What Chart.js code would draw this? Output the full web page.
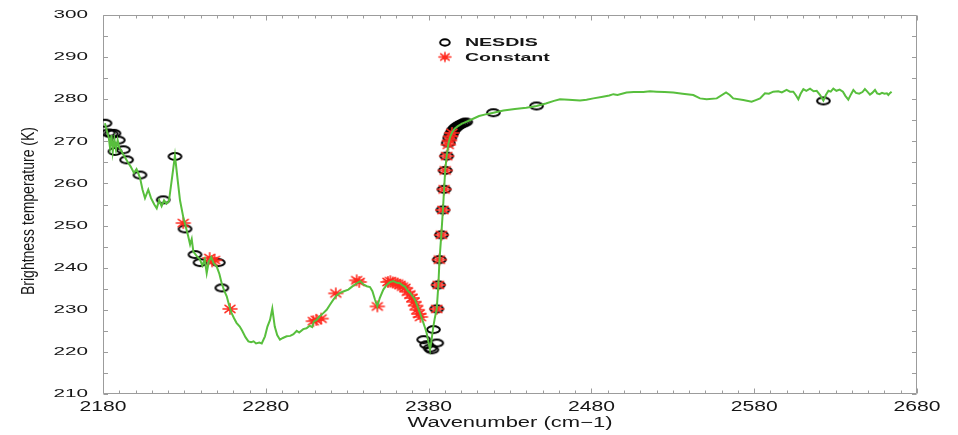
<!DOCTYPE html>
<html>
<head>
<meta charset="utf-8">
<title>Brightness temperature spectrum</title>
<script src="https://cdn.jsdelivr.net/npm/chart.js@4.4.1/dist/chart.umd.min.js"></script>
<style>
  html, body { margin: 0; padding: 0; background: #ffffff; }
  canvas { display: block; }
</style>
</head>
<body>
<canvas id="spectrum" width="958" height="435"></canvas>
<script>
// Observed spectrum (wavenumber in cm-1, brightness temperature in K)
const spectrumWavenumber = [
  2181.2, 2182.5, 2183.5, 2184.3, 2185.2, 2186.0, 2187.0, 2188.0, 2189.0, 2190.0,
  2191.5, 2193.0, 2195.0, 2197.0, 2199.0, 2200.6, 2202.7, 2204.3, 2205.8, 2207.8,
  2209.5, 2211.5, 2213.0, 2214.5, 2216.0, 2217.5, 2219.0, 2220.5, 2222.3, 2224.2,
  2225.8, 2227.3, 2229.3, 2231.0, 2232.3, 2233.5, 2234.5, 2235.5, 2237.5, 2239.6,
  2241.0, 2242.5, 2243.7, 2245.0, 2246.5, 2248.0, 2249.8, 2251.5, 2252.9, 2254.5,
  2256.0, 2257.5, 2259.0, 2260.5, 2262.0, 2264.0, 2265.5, 2267.5, 2269.3, 2271.0,
  2272.5, 2274.0, 2276.0, 2277.5, 2279.5, 2281.0, 2282.6, 2284.0, 2285.5, 2287.0,
  2288.7, 2290.5, 2292.8, 2295.0, 2297.0, 2299.0, 2300.5, 2303.0, 2305.0, 2307.0,
  2308.5, 2309.5, 2311.2, 2313.0, 2315.3, 2317.4, 2319.4, 2321.5, 2323.5, 2325.6,
  2328.0, 2330.7, 2333.0, 2335.8, 2338.0, 2340.0, 2342.0, 2344.0, 2345.5, 2347.0,
  2348.5, 2350.0, 2352.2, 2354.0, 2356.0, 2358.3, 2360.5, 2362.4, 2364.0, 2365.5,
  2367.0, 2368.6, 2370.2, 2371.6, 2373.2, 2374.7, 2375.8, 2376.8, 2378.0, 2378.8,
  2379.8, 2380.9, 2381.8, 2382.9, 2383.8, 2385.0, 2386.0, 2386.7, 2387.8, 2388.8,
  2389.5, 2390.2, 2391.1, 2392.1, 2393.2, 2394.5, 2396.0, 2398.0, 2400.5, 2403.4,
  2407.0, 2411.0, 2415.0, 2419.8, 2426.0, 2433.0, 2440.0, 2446.3, 2452.0, 2457.0,
  2460.7, 2466.0, 2473.0, 2477.0, 2481.2, 2487.0, 2491.0, 2493.5, 2496.0, 2501.6,
  2506.0, 2511.9, 2516.0, 2520.0, 2525.0, 2530.3, 2536.0, 2542.6, 2546.7, 2550.8,
  2557.0, 2562.7, 2565.0, 2567.1, 2573.3, 2578.4, 2581.0, 2583.6, 2586.6, 2589.0,
  2591.7, 2594.8, 2597.0, 2599.9, 2602.0, 2604.0, 2605.5, 2607.1, 2608.5, 2610.2,
  2612.0, 2614.3, 2616.5, 2618.4, 2620.5, 2622.5, 2624.0, 2625.6, 2627.0, 2628.6,
  2630.5, 2632.5, 2634.5, 2636.0, 2637.8, 2639.5, 2640.9, 2642.5, 2644.5, 2646.5,
  2648.0, 2649.5, 2651.1, 2652.5, 2654.2, 2655.5, 2657.0, 2658.5, 2660.0, 2661.5,
  2662.4, 2663.5, 2664.4
];
const spectrumTb = [
  274.3, 272.3, 271.0, 268.5, 271.5, 267.5, 270.5, 268.0, 270.3, 268.5,
  267.5, 266.5, 265.2, 264.0, 262.5, 263.4, 261.4, 258.5, 256.5, 258.5,
  256.5, 255.0, 254.1, 256.0, 254.6, 256.0, 255.2, 255.8, 261.0, 266.6,
  261.0, 256.0, 252.0, 249.5, 247.5, 245.5, 246.8, 243.8, 242.8, 241.9,
  240.5, 242.0, 238.7, 241.5, 242.5, 241.0, 240.3, 238.5, 236.3, 234.5,
  233.2, 231.0, 229.2, 228.0, 226.9, 226.0, 225.0, 223.5, 222.5, 222.3,
  222.5, 222.0, 222.2, 222.0, 223.7, 226.0, 227.6, 230.3, 226.0, 224.0,
  222.9, 223.3, 223.7, 223.8, 224.2, 225.0, 224.6, 225.4, 225.6, 226.2,
  225.9, 227.2, 227.6, 228.4, 229.2, 230.0, 231.2, 232.4, 233.4, 234.0,
  234.4, 234.8, 235.5, 236.3, 236.8, 236.0, 235.6, 235.4, 234.4, 232.5,
  230.8, 232.8, 234.8, 235.8, 236.5, 236.8, 236.4, 236.3, 235.8, 235.5,
  234.6, 234.0, 233.2, 232.4, 230.8, 229.2, 228.0, 226.9, 225.5, 224.5,
  222.5, 220.5, 222.8, 226.0, 228.0, 230.2, 235.9, 241.9, 247.8, 253.7,
  258.6, 263.1, 266.5, 269.3, 271.0, 272.2, 273.0, 273.6, 274.2, 274.7,
  275.3, 276.0, 276.4, 276.8, 277.3, 277.7, 278.0, 278.4, 279.0, 279.6,
  280.0, 279.9, 279.7, 279.9, 280.2, 280.6, 280.9, 281.2, 281.0, 281.6,
  281.7, 281.7, 281.9, 281.8, 281.7, 281.6, 281.3, 281.0, 280.2, 280.0,
  280.2, 281.6, 281.0, 280.2, 279.8, 279.4, 279.8, 280.2, 281.4, 281.3,
  281.8, 281.9, 281.6, 282.2, 281.8, 281.8, 281.0, 280.0, 281.3, 282.4,
  282.0, 282.5, 281.9, 282.0, 281.0, 279.7, 281.0, 282.0, 281.8, 282.5,
  282.0, 282.3, 281.8, 280.8, 279.9, 281.2, 282.2, 281.5, 281.3, 281.7,
  282.4, 281.8, 281.1, 281.5, 282.2, 281.4, 281.2, 281.5, 281.3, 281.4,
  281.0, 281.5, 281.8
];

// Channels simulated with the NESDIS emissivity
const nesdisWavenumber = [
  2181.2, 2183.2, 2185.0, 2186.7, 2187.4, 2189.4, 2192.5, 2194.5, 2202.7, 2217.0,
  2224.2, 2230.4, 2236.5, 2239.6, 2250.8, 2253.0, 2377.0, 2378.8, 2380.9, 2382.0,
  2383.0, 2385.0, 2385.0, 2386.0, 2386.6, 2387.9, 2388.8, 2389.5, 2390.2, 2391.1,
  2392.1, 2393.0, 2393.8, 2394.6, 2395.5, 2396.5, 2397.5, 2398.5, 2399.5, 2400.6,
  2401.7, 2402.8, 2419.8, 2446.3, 2622.5
];
const nesdisTb = [
  274.3, 272.0, 271.8, 271.9, 267.6, 270.3, 268.0, 265.6, 262.0, 256.1,
  266.4, 249.2, 243.1, 241.2, 241.2, 235.2, 222.9, 221.7, 220.9, 220.5,
  225.3, 222.1, 230.2, 235.9, 241.9, 247.8, 253.7, 258.6, 263.1, 266.5,
  269.6, 270.8, 271.6, 272.2, 272.8, 273.2, 273.5, 273.8, 274.0, 274.2,
  274.4, 274.6, 276.8, 278.4, 279.6
];

// Channels simulated with a constant emissivity
const constantWavenumber = [
  2229.3, 2245.5, 2247.0, 2248.5, 2258.0, 2309.2, 2311.0, 2314.0, 2323.0, 2335.8,
  2337.4, 2348.5, 2355.0, 2356.5, 2358.0, 2359.5, 2361.0, 2362.5, 2364.0, 2365.5,
  2367.0, 2368.5, 2369.8, 2371.0, 2372.0, 2373.0, 2374.0, 2375.0, 2385.0, 2386.0,
  2386.6, 2387.9, 2388.8, 2389.5, 2390.2, 2391.1, 2392.1, 2392.8, 2393.5, 2394.3
];
const constantTb = [
  250.6, 242.3, 241.5, 241.8, 230.2, 227.3, 227.6, 227.9, 233.9, 237.0,
  236.6, 230.8, 236.6, 236.8, 236.5, 236.3, 236.2, 235.9, 235.5, 235.2,
  234.3, 233.6, 232.8, 231.9, 231.0, 230.0, 229.0, 228.3, 230.2, 235.9,
  241.9, 247.8, 253.7, 258.6, 263.1, 266.5, 269.2, 270.2, 271.2, 272.0
];

// Axis ranges, labelled ticks and minor tick spacing
const xRange = [2180, 2680];
const yRange = [210, 300];
const xTickLabels = [2180, 2280, 2380, 2480, 2580, 2680];
const yTickLabels = [210, 220, 230, 240, 250, 260, 270, 280, 290, 300];
const xMinorStep = 10;
const yMinorStep = 5;

const seriesNames = ['NESDIS', 'Constant'];
const xTitle = 'Wavenumber (cm\u22121)';
const yTitle = 'Brightness temperature (K)';

const TEXT = '#161616';
const FRAME = '#9c9c9c';
const GREEN = '#58bf3d';
const RED = '#ff2a1f';
const FONT = '"Liberation Sans", Arial, Helvetica, sans-serif';

function pairs(xs, ys) {
  return xs.map((x, i) => ({ x: x, y: ys[i] }));
}

// Open elliptical ring used as the NESDIS marker
function ringMarker(rx, ry, lw) {
  const c = document.createElement('canvas');
  c.width = Math.ceil(2 * rx + lw + 2);
  c.height = Math.ceil(2 * ry + lw + 2);
  const g = c.getContext('2d');
  g.strokeStyle = '#000000';
  g.lineWidth = lw;
  g.beginPath();
  g.ellipse(c.width / 2, c.height / 2, rx, ry, 0, 0, Math.PI * 2);
  g.stroke();
  return c;
}

// Asterisk used as the constant-emissivity marker
function asteriskMarker(rx, ry, lw) {
  const c = document.createElement('canvas');
  c.width = Math.ceil(2 * rx + lw + 2);
  c.height = Math.ceil(2 * ry + lw + 2);
  const g = c.getContext('2d');
  const cx = c.width / 2, cy = c.height / 2;
  g.strokeStyle = RED;
  g.lineWidth = lw;
  g.lineCap = 'round';
  g.beginPath();
  for (let k = 0; k < 4; k++) {
    const a = k * Math.PI / 4;
    const dx = Math.cos(a) * rx, dy = Math.sin(a) * ry;
    g.moveTo(cx - dx, cy - dy);
    g.lineTo(cx + dx, cy + dy);
  }
  g.stroke();
  return c;
}

const ringPlot = ringMarker(6.4, 3.4, 2);
const starPlot = asteriskMarker(7, 5.2, 1.6);
const ringKey = ringMarker(4.8, 3.2, 2);
const starKey = asteriskMarker(6, 4.4, 1.6);

// Text drawn with a horizontal stretch so it fills a given width
function wideText(ctx, text, x, y, font, width, align) {
  ctx.save();
  ctx.font = font;
  const w = ctx.measureText(text).width;
  const sx = width / w;
  ctx.translate(x, y);
  ctx.scale(sx, 1);
  ctx.textBaseline = 'middle';
  let ox = 0;
  if (align === 'center') ox = -w / 2;
  else if (align === 'right') ox = -w;
  ctx.textAlign = 'left';
  ctx.fillText(text, ox, 0);
  ctx.restore();
  return sx;
}

// Box frame, inward ticks, tick labels, axis titles and the key
const framePlugin = {
  id: 'framePlugin',
  beforeDatasetsDraw(chart) {
    const ctx = chart.ctx;
    const a = chart.chartArea;
    const xs = chart.scales.x, ys = chart.scales.y;
    const L = Math.round(a.left) + 0.5, R = Math.round(a.right) - 0.5;
    const T = Math.round(a.top) + 0.5, B = Math.round(a.bottom) - 0.5;
    ctx.save();
    ctx.strokeStyle = FRAME;
    ctx.lineWidth = 1;
    ctx.beginPath();
    ctx.rect(L, T, R - L, B - T);
    for (let v = xRange[0]; v <= xRange[1] + 1e-6; v += xMinorStep) {
      const px = Math.round(xs.getPixelForValue(v)) + 0.5;
      const len = xTickLabels.includes(v) ? 5 : 3;
      ctx.moveTo(px, B); ctx.lineTo(px, B - len);
      ctx.moveTo(px, T); ctx.lineTo(px, T + len);
    }
    for (let v = yRange[0]; v <= yRange[1] + 1e-6; v += yMinorStep) {
      const py = Math.round(ys.getPixelForValue(v)) + 0.5;
      ctx.moveTo(L, py); ctx.lineTo(L + 4.5, py);
      ctx.moveTo(R, py); ctx.lineTo(R - 4.5, py);
    }
    ctx.stroke();
    ctx.restore();
  },
  afterDraw(chart) {
    const ctx = chart.ctx;
    const a = chart.chartArea;
    const xs = chart.scales.x, ys = chart.scales.y;
    ctx.save();
    ctx.fillStyle = TEXT;

    // y tick labels
    const yFont = '11.6px ' + FONT;
    yTickLabels.forEach(v => {
      wideText(ctx, String(v), a.left - 15, ys.getPixelForValue(v), yFont, 34.5, 'right');
    });
    // x tick labels
    const xFont = '14px ' + FONT;
    xTickLabels.forEach(v => {
      wideText(ctx, String(v), xs.getPixelForValue(v), a.bottom + 13, xFont, 47, 'center');
    });
    // x title
    wideText(ctx, xTitle, (a.left + a.right) / 2, a.bottom + 29, '14px ' + FONT, 205, 'center');

    // y title, rotated
    ctx.save();
    ctx.font = '14px ' + FONT;
    const tw = ctx.measureText(yTitle).width;
    ctx.translate(28.5, (a.top + a.bottom) / 2 + 6.5);
    ctx.rotate(-Math.PI / 2);
    ctx.scale(168 / tw, 1.3);
    ctx.textAlign = 'center';
    ctx.textBaseline = 'middle';
    ctx.fillText(yTitle, 0, 0);
    ctx.restore();

    // key
    const kx = a.left + 0.42 * a.width;
    const ky1 = a.top + 27.5, ky2 = a.top + 42;
    ctx.drawImage(ringKey, kx - ringKey.width / 2, ky1 - ringKey.height / 2);
    ctx.drawImage(starKey, kx - starKey.width / 2, ky2 - starKey.height / 2);
    const kFont = 'bold 11.6px ' + FONT;
    ctx.font = kFont;
    const sx = 73 / ctx.measureText(seriesNames[0]).width;
    [seriesNames[0], seriesNames[1]].forEach((name, i) => {
      ctx.save();
      ctx.font = kFont;
      ctx.translate(kx + 20, i === 0 ? ky1 : ky2);
      ctx.scale(sx, 1);
      ctx.textAlign = 'left';
      ctx.textBaseline = 'middle';
      ctx.fillText(name, 0, 0.5);
      ctx.restore();
    });
    ctx.restore();
  }
};

new Chart(document.getElementById('spectrum'), {
  type: 'scatter',
  data: {
    datasets: [
      {
        label: 'Spectrum',
        data: pairs(spectrumWavenumber, spectrumTb),
        showLine: true,
        borderColor: GREEN,
        borderWidth: 2,
        pointRadius: 0,
        tension: 0,
        order: 0
      },
      {
        label: seriesNames[1],
        data: pairs(constantWavenumber, constantTb),
        showLine: false,
        pointStyle: starPlot,
        pointRadius: 7,
        order: 1
      },
      {
        label: seriesNames[0],
        data: pairs(nesdisWavenumber, nesdisTb),
        showLine: false,
        pointStyle: ringPlot,
        pointRadius: 7,
        order: 2
      }
    ]
  },
  options: {
    responsive: false,
    animation: false,
    devicePixelRatio: 1,
    events: [],
    layout: { padding: { left: 103, right: 41, top: 15, bottom: 41 } },
    scales: {
      x: { type: 'linear', display: false, min: xRange[0], max: xRange[1] },
      y: { type: 'linear', display: false, min: yRange[0], max: yRange[1] }
    },
    plugins: {
      legend: { display: false },
      tooltip: { enabled: false },
      title: { display: false }
    }
  },
  plugins: [framePlugin]
});
</script>
</body>
</html>
